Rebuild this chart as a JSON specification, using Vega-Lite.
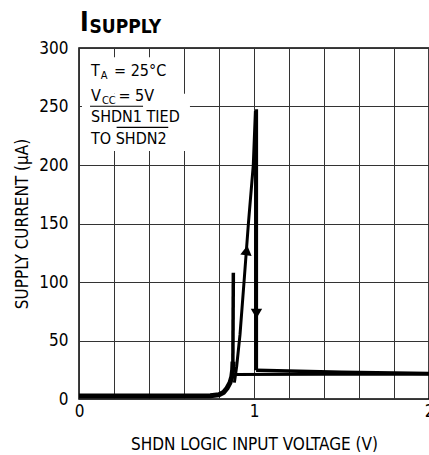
{
  "$schema": "https://vega.github.io/schema/vega-lite/v6.json",
  "width": 350,
  "height": 351,
  "autosize": {"type": "none"},
  "padding": {"left": 79, "top": 48, "right": 0, "bottom": 56},
  "background": "white",
  "config": {
    "font": "DejaVu Sans Condensed",
    "view": {"stroke": "#000", "strokeWidth": 1.5},
    "axis": {
      "labelFont": "DejaVu Sans Condensed",
      "titleFont": "DejaVu Sans Condensed",
      "labelColor": "#000",
      "titleColor": "#000",
      "titleFontWeight": "normal",
      "grid": true,
      "gridColor": "#333",
      "gridWidth": 1,
      "gridOpacity": 1,
      "ticks": false,
      "domain": false
    }
  },
  "datasets": {
    "curve": [
      {"s": "low", "i": 0, "x": 0, "y": 2.5},
      {"s": "low", "i": 1, "x": 0.4, "y": 2.5},
      {"s": "low", "i": 2, "x": 0.75, "y": 2.8},
      {"s": "low", "i": 3, "x": 0.8, "y": 3.6},
      {"s": "low", "i": 4, "x": 0.825, "y": 5.5},
      {"s": "low", "i": 5, "x": 0.845, "y": 9},
      {"s": "low", "i": 6, "x": 0.863, "y": 14},
      {"s": "low", "i": 7, "x": 0.873, "y": 19},
      {"s": "low", "i": 8, "x": 0.878, "y": 25},
      {"s": "low", "i": 9, "x": 0.88, "y": 32},
      {"s": "spike", "i": 0, "x": 0.879, "y": 25},
      {"s": "spike", "i": 1, "x": 0.882, "y": 108},
      {"s": "lowH", "i": 0, "x": 0.88, "y": 21},
      {"s": "lowH", "i": 1, "x": 1.4, "y": 21.1},
      {"s": "lowH", "i": 2, "x": 2, "y": 21.2},
      {"s": "diag", "i": 0, "x": 0.888, "y": 14},
      {"s": "diag", "i": 1, "x": 0.901, "y": 28},
      {"s": "diag", "i": 2, "x": 0.92, "y": 55},
      {"s": "diag", "i": 3, "x": 0.943, "y": 100},
      {"s": "diag", "i": 4, "x": 0.968, "y": 150},
      {"s": "diag", "i": 5, "x": 0.996, "y": 200},
      {"s": "diag", "i": 6, "x": 1.008, "y": 246},
      {"s": "down", "i": 0, "x": 1.006, "y": 246},
      {"s": "down", "i": 1, "x": 1.012, "y": 246},
      {"s": "down", "i": 2, "x": 1.012, "y": 24.5},
      {"s": "upH", "i": 0, "x": 1.012, "y": 24.5},
      {"s": "upH", "i": 1, "x": 1.5, "y": 22.8},
      {"s": "upH", "i": 2, "x": 2, "y": 21.8}
    ],
    "boxes": [
      {"x": 0.017, "x2": 0.52, "y": 292, "y2": 261},
      {"x": 0.017, "x2": 0.634, "y": 261, "y2": 212}
    ],
    "notes": [
      {"k": "main", "t": "T", "x": 0.0686, "y": 276.3},
      {"k": "main", "t": "= 25°C", "x": 0.2, "y": 276.3},
      {"k": "main", "t": "V", "x": 0.0686, "y": 255},
      {"k": "main", "t": "= 5V", "x": 0.225, "y": 255},
      {"k": "main", "t": "SHDN1 TIED", "x": 0.0686, "y": 236.5},
      {"k": "main", "t": "TO SHDN2", "x": 0.0686, "y": 218},
      {"k": "sub", "t": "A", "x": 0.124, "y": 273.5},
      {"k": "sub", "t": "CC", "x": 0.131, "y": 252},
      {"k": "title", "t": "I", "x": 0.0057, "y": 314.5},
      {"k": "titlesub", "t": "SUPPLY", "x": 0.06, "y": 312.8}
    ],
    "overlines": [
      {"x": 0.063, "x2": 0.366, "y": 250.2},
      {"x": 0.215, "x2": 0.51, "y": 232.2}
    ],
    "arrows": [
      {"d": "up", "x": 0.958, "y": 127},
      {"d": "down", "x": 1.014, "y": 73}
    ]
  },
  "encoding": {
    "x": {
      "field": "x",
      "type": "quantitative",
      "scale": {"domain": [0, 2], "nice": false, "zero": false},
      "axis": {
        "title": "SHDN LOGIC INPUT VOLTAGE (V)",
        "grid": true,
        "values": [0, 0.2, 0.4, 0.6, 0.8, 1, 1.2, 1.4, 1.6, 1.8, 2],
        "labelExpr": "datum.value == 0 ? '0' : (datum.value == 1 ? '1' : (datum.value == 2 ? '2' : ''))",
        "labelFontSize": 17,
        "labelPadding": 4,
        "labelFlush": false,
        "labelOverlap": false,
        "titleFontSize": 17,
        "titlePadding": 17
      }
    },
    "y": {
      "field": "y",
      "type": "quantitative",
      "scale": {"domain": [0, 300], "nice": false},
      "axis": {
        "title": "SUPPLY CURRENT (µA)",
        "grid": true,
        "values": [0, 50, 100, 150, 200, 250, 300],
        "labelFontSize": 17,
        "labelPadding": 11,
        "titleFontSize": 17,
        "titlePadding": 7
      }
    }
  },
  "layer": [
    {
      "data": {"name": "boxes"},
      "mark": {"type": "rect", "fill": "white"},
      "encoding": {"x2": {"field": "x2"}, "y2": {"field": "y2"}}
    },
    {
      "data": {"name": "curve"},
      "transform": [{"filter": "datum.s == 'low'"}],
      "mark": {"type": "line", "color": "#000", "strokeWidth": 5, "strokeJoin": "round"},
      "encoding": {"order": {"field": "i"}}
    },
    {
      "data": {"name": "curve"},
      "transform": [{"filter": "datum.s == 'spike'"}],
      "mark": {"type": "line", "color": "#000", "strokeWidth": 3.5},
      "encoding": {"order": {"field": "i"}}
    },
    {
      "data": {"name": "curve"},
      "transform": [{"filter": "datum.s == 'lowH'"}],
      "mark": {"type": "line", "color": "#000", "strokeWidth": 3},
      "encoding": {"order": {"field": "i"}}
    },
    {
      "data": {"name": "curve"},
      "transform": [{"filter": "datum.s == 'diag'"}],
      "mark": {"type": "line", "color": "#000", "strokeWidth": 3, "strokeJoin": "round"},
      "encoding": {"order": {"field": "i"}}
    },
    {
      "data": {"name": "curve"},
      "transform": [{"filter": "datum.s == 'down'"}],
      "mark": {"type": "line", "color": "#000", "strokeWidth": 4},
      "encoding": {"order": {"field": "i"}}
    },
    {
      "data": {"name": "curve"},
      "transform": [{"filter": "datum.s == 'upH'"}],
      "mark": {"type": "line", "color": "#000", "strokeWidth": 3.5},
      "encoding": {"order": {"field": "i"}}
    },
    {
      "data": {"name": "arrows"},
      "transform": [{"filter": "datum.d == 'up'"}],
      "mark": {"type": "point", "shape": "triangle-up", "filled": true, "color": "#000", "size": 130, "opacity": 1, "angle": 8}
    },
    {
      "data": {"name": "arrows"},
      "transform": [{"filter": "datum.d == 'down'"}],
      "mark": {"type": "point", "shape": "triangle-down", "filled": true, "color": "#000", "size": 130, "opacity": 1}
    },
    {
      "data": {"name": "notes"},
      "transform": [{"filter": "datum.k == 'main'"}],
      "mark": {"type": "text", "align": "left", "baseline": "alphabetic", "fontSize": 16, "color": "#000"},
      "encoding": {"text": {"field": "t"}}
    },
    {
      "data": {"name": "notes"},
      "transform": [{"filter": "datum.k == 'sub'"}],
      "mark": {"type": "text", "align": "left", "baseline": "alphabetic", "fontSize": 11, "color": "#000"},
      "encoding": {"text": {"field": "t"}}
    },
    {
      "data": {"name": "notes"},
      "transform": [{"filter": "datum.k == 'title'"}],
      "mark": {"type": "text", "align": "left", "baseline": "alphabetic", "fontSize": 26, "fontWeight": "bold", "color": "#000"},
      "encoding": {"text": {"field": "t"}}
    },
    {
      "data": {"name": "notes"},
      "transform": [{"filter": "datum.k == 'titlesub'"}],
      "mark": {"type": "text", "align": "left", "baseline": "alphabetic", "fontSize": 19, "fontWeight": "bold", "color": "#000"},
      "encoding": {"text": {"field": "t"}}
    },
    {
      "data": {"name": "overlines"},
      "mark": {"type": "rule", "color": "#000", "strokeWidth": 1.2},
      "encoding": {"x2": {"field": "x2"}}
    }
  ]
}
